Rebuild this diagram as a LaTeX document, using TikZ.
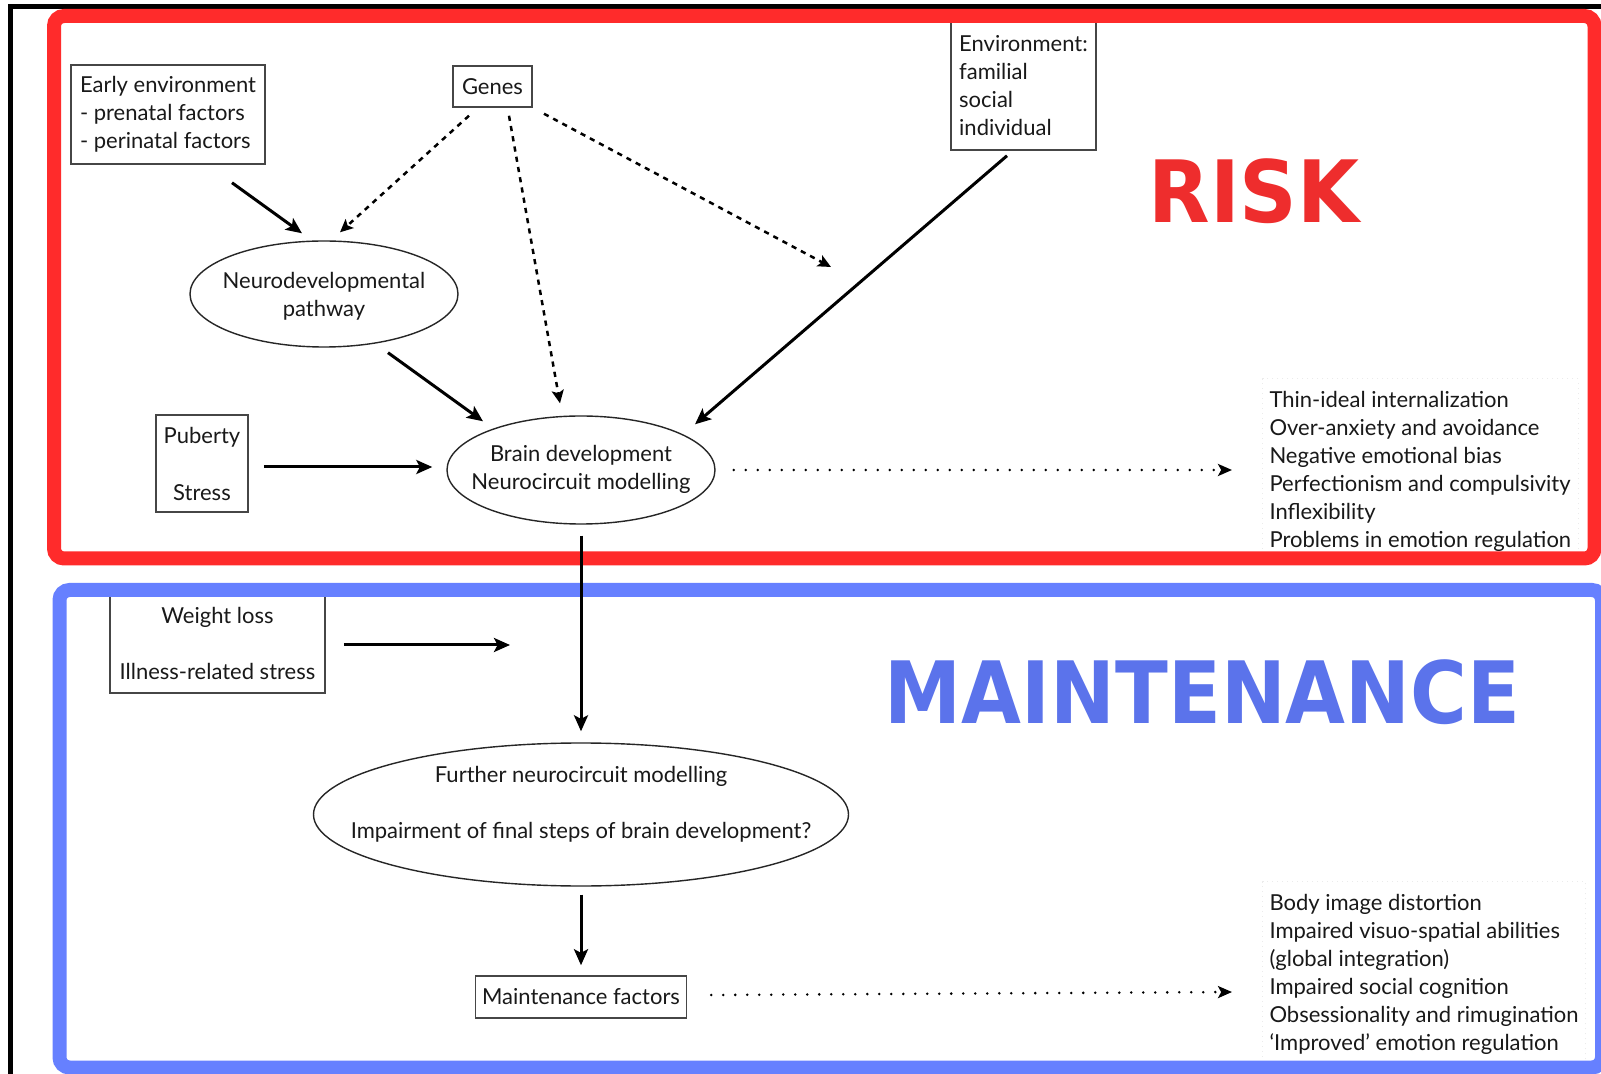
\documentclass[tikz,border=0pt]{standalone}
\usepackage{fontspec}
\setmainfont{Lato}
\newfontfamily\titlefont{DejaVu Sans}
\usetikzlibrary{arrows.meta,calc,shapes.geometric}

\definecolor{riskframe}{RGB}{255,43,43}
\definecolor{risktext}{RGB}{238,45,45}
\definecolor{maintframe}{RGB}{102,128,255}
\definecolor{mainttext}{RGB}{91,115,235}
\definecolor{ink}{RGB}{25,25,25}
\definecolor{boxline}{RGB}{70,70,70}

\tikzset{
  txt/.style={font=\fontsize{11}{14}\selectfont, text=ink},
  factorbox/.style={txt, draw=boxline, line width=0.75pt, fill=white, inner sep=3pt},
  stage/.style={ellipse, draw=black!85, line width=0.7pt, inner sep=0pt},
  stagetext/.style={txt, align=center, inner sep=0pt},
  outlist/.style={txt, align=left, anchor=west, draw=black!8, dotted, line width=0.5pt, inner xsep=3.5pt, inner ysep=6pt},
  solidarrow/.style={-{Stealth[length=8pt,width=7pt,inset=1.8pt]}, line width=1.5pt, black},
  dashedarrow/.style={-{Stealth[length=6.5pt,width=6pt,inset=1.4pt]}, line width=1.25pt, black, dash pattern=on 2.6pt off 2.6pt},
  dottedarrow/.style={-{Stealth[length=7pt,width=6pt,inset=1.6pt]}, line width=1.4pt, black, line cap=round, dash pattern=on 0pt off 6pt},
  frame/.style={line width=7pt, rounded corners=5pt},
  title/.style={font=\titlefont\bfseries\fontsize{43}{43}\selectfont, inner sep=0pt, anchor=base}
}

\begin{document}
\begin{tikzpicture}[x=0.5pt,y=-0.5pt]
  \useasboundingbox (0,0) rectangle (1601,1074);
  \fill[white] (0,0) rectangle (1601,1074);

  % outer black border (left and top)
  \draw[line width=2.6pt, black] (10.5,1074) -- (10.5,6.5) -- (1601,6.5);

  % ---- risk factors ----
  \node[factorbox, align=left, minimum width=97pt, minimum height=49.5pt] (early) at (168,114.5)
    {Early environment\\- prenatal factors\\- perinatal factors};
  \node[factorbox, minimum width=39.5pt, minimum height=20.5pt] (genes) at (492.5,86.5) {Genes};
  \node[factorbox, align=left, minimum width=72.5pt, minimum height=64pt] (env) at (1023.5,86)
    {Environment:\\familial\\social\\individual};
  \node[stage, minimum width=134pt, minimum height=53pt] (neuro) at (324,294) {};
  \node[stagetext] at ($(neuro)+(0,2)$) {Neurodevelopmental\\pathway};
  \node[factorbox, align=center, minimum width=46pt, minimum height=48.5pt] (puberty) at (202,463.5)
    {Puberty\\[14.5pt]Stress};
  \node[stage, minimum width=134pt, minimum height=54pt] (brain) at (581,470) {};
  \node[stagetext] at ($(brain)+(0,-1)$) {Brain development\\Neurocircuit modelling};
  \node[outlist] (risklist) at (1262,471)
    {Thin-ideal internalization\\Over-anxiety and avoidance\\Negative emotional bias\\Perfectionism and compulsivity\\Inflexibility\\Problems in emotion regulation};

  % ---- maintenance factors ----
  \node[factorbox, align=center, minimum width=107.5pt, minimum height=50pt] (weight) at (217.5,643)
    {Weight loss\\[14pt]Illness-related stress};
  \node[stage, minimum width=267.5pt, minimum height=71.5pt] (further) at (581,814.5) {};
  \node[stagetext] at ($(further)+(0,-10)$)
    {Further neurocircuit modelling\\[14pt]Impairment of final steps of brain development?};
  \node[factorbox, minimum width=105.5pt, minimum height=21pt] (maint) at (581,997) {Maintenance factors};
  \node[outlist] (maintlist) at (1262,974)
    {Body image distortion\\Impaired visuo-spatial abilities\\(global integration)\\Impaired social cognition\\Obsessionality and rimugination\\`Improved' emotion regulation};

  % ---- coloured frames ----
  \draw[frame, riskframe] (54,16) rectangle (1594.5,558.5);
  \draw[frame, maintframe] (59.5,590) rectangle (1602,1067.5);

  \node[title, text=risktext, xscale=0.93] (risk) at (1254,223) {RISK};
  \node[title, text=mainttext, xscale=0.9] (maintenance) at (1202.5,723) {MAINTENANCE};

  % ---- connectors ----
  \coordinate (genesfree) at (831,267);
  \coordinate (weightfree) at (510,645);

  \draw[solidarrow] ($(early.south)+(64,18)$) -- ($(neuro.north)+(-22,-7)$);
  \draw[dashedarrow] ($(genes.south)+(-23.5,8)$) -- ($(neuro.north)+(16,-8)$);
  \draw[dashedarrow] ($(genes.south)+(16.5,8)$) -- ($(brain.north)+(-21,-12)$);
  \draw[dashedarrow] ($(genes.south)+(51.5,6)$) -- (genesfree);
  \draw[solidarrow] ($(env.south)+(-16.5,5)$) -- ($(brain.north)+(114,9)$);
  \draw[solidarrow] ($(neuro.south)+(64,5)$) -- ($(brain.north)+(-98,6)$);
  \draw[solidarrow] ($(puberty.east)+(15,3.5)$) -- ($(brain.west)+(-14,-3)$);
  \draw[dottedarrow] ($(brain.east)+(18,0)$) -- ($(risklist.west)+(-30,-1)$);
  \draw[solidarrow] ($(brain.south)+(0,11)$) -- ($(further.north)+(0,-11)$);
  \draw[solidarrow] ($(weight.east)+(18,2)$) -- (weightfree);
  \draw[solidarrow] ($(further.south)+(0,8)$) -- ($(maint.north)+(0,-10)$);
  \draw[dottedarrow] ($(maint.east)+(24,-2)$) -- ($(maintlist.west)+(-30,18)$);
\end{tikzpicture}
\end{document}
